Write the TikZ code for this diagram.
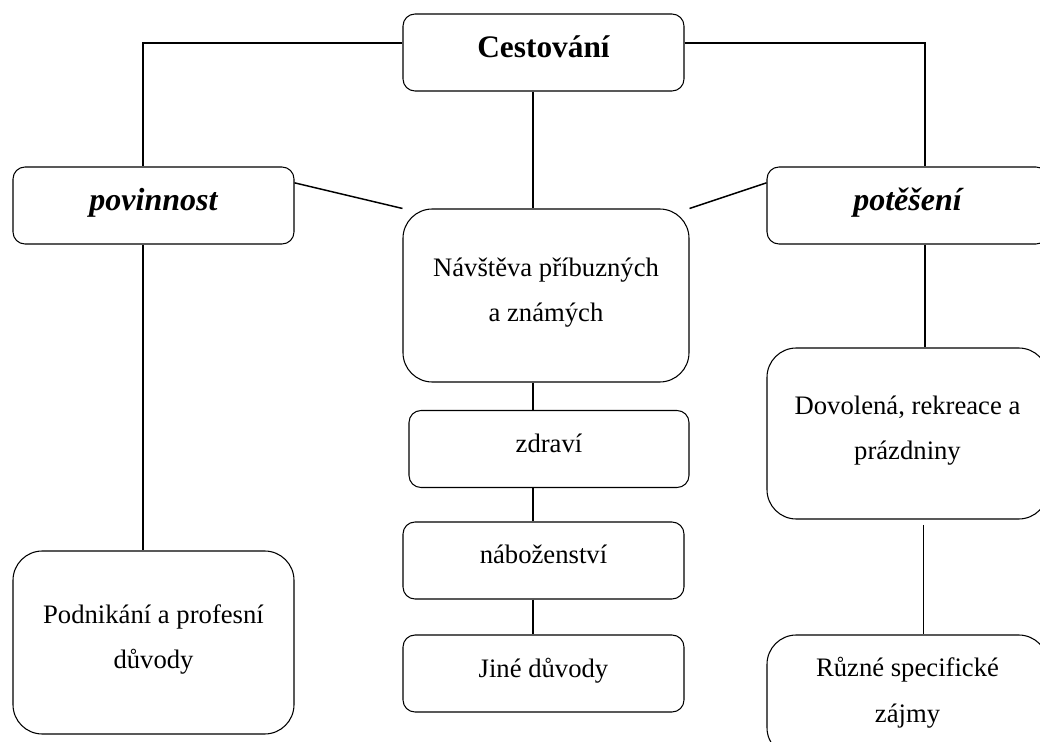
\documentclass[tikz,border=0pt]{standalone}
\usepackage{fontspec}
\setmainfont{Liberation Serif}
\begin{document}
\begin{tikzpicture}[x=0.75pt,y=-0.75pt,
  box/.style={draw,line width=0.8pt,rounded corners=9pt,inner sep=0pt,
    minimum width=210.75pt,minimum height=57.75pt,align=center,text depth=9pt,
    font=\fontsize{20}{34}\selectfont},
  bigbox/.style={box,rounded corners=22pt},
  head/.style={box,font=\fontsize{24}{28}\selectfont\bfseries\itshape},
  link/.style={line width=1.1pt}]
\useasboundingbox (0,0) rectangle (1040,742);
\clip (0,0) rectangle (1040,742);
\fill[white] (0,0) rectangle (1040,742);
% top and the two kinds
\node[box,font=\fontsize{23.5}{28}\selectfont\bfseries] (cest) at (543.5,52.5) {Cestování};
\node[head] (povin) at (153.5,205.5) {povinnost};
\node[head] (potes) at (907.5,205.5) {potěšení};
% middle column
\node[bigbox,minimum width=214.5pt,minimum height=129.75pt] (navst) at (546,295.5) {Návštěva příbuzných\\a známých};
\node[box,minimum width=210pt] (zdravi) at (549,449) {zdraví};
\node[box] (nabo) at (543.5,560.5) {náboženství};
\node[box] (jine) at (543.5,673.5) {Jiné důvody};
% left and right columns
\node[bigbox,minimum height=137.25pt] (podn) at (153.5,642.5) {Podnikání a profesní\\důvody};
\node[bigbox,minimum height=128.25pt] (dovol) at (907.5,433.5) {Dovolená, rekreace a\\prázdniny};
\node[bigbox,minimum height=91.5pt] (ruzne) at (907.5,696) {Různé specifické\\zájmy};
% connectors
\draw[link] ([yshift=7pt]cest.west) -| ([xshift=-7.9pt]povin.north);
\draw[link] ([yshift=7pt]cest.east) -| ([xshift=13pt]potes.north);
\draw[link] ([xshift=-7.9pt]cest.south) -- ([xshift=-7.9pt]cest.south |- navst.north);
\draw[link] ([yshift=17pt]povin.east) -- (navst.north west);
\draw[link] ([yshift=17pt]potes.west) -- (navst.north east);
\draw[link] ([xshift=-9.75pt]navst.south) -- ([xshift=-9.75pt]navst.south |- zdravi.north);
\draw[link] ([xshift=-12pt]zdravi.south) -- ([xshift=-12pt]zdravi.south |- nabo.north);
\draw[link] ([xshift=-7.9pt]nabo.south) -- ([xshift=-7.9pt]jine.north);
\draw[link] ([xshift=-7.9pt]povin.south) -- ([xshift=-7.9pt]podn.north);
\draw[link] ([xshift=13pt]potes.south) -- ([xshift=13pt]dovol.north);
\draw[link] ([xshift=12pt,yshift=-4pt]dovol.south) -- ([xshift=12pt]ruzne.north);
\end{tikzpicture}
\end{document}
